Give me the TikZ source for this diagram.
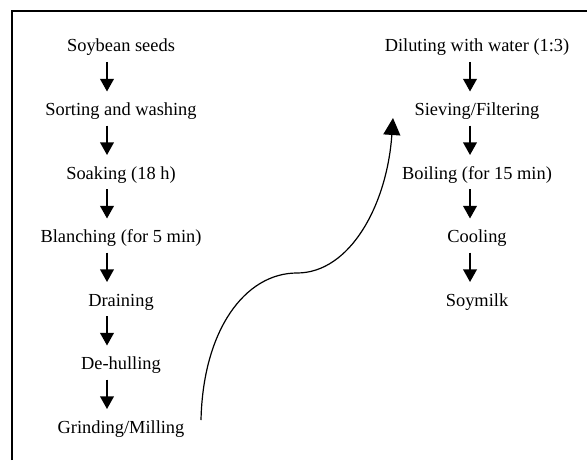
\documentclass[tikz,border=0pt]{standalone}
\usepackage{fontspec}
\setmainfont{Liberation Serif}
\usetikzlibrary{arrows.meta}

\begin{document}
\begin{tikzpicture}[x=0.5pt, y=-0.5pt]
    % Styles
    \tikzset{
        frameline/.style={line width=0.75pt},
        steplabel/.style={anchor=base, inner sep=0pt, font=\fontsize{9.2}{11}\selectfont},
        flowarrow/.style={line width=0.9pt, -{Triangle[length=6.3pt, width=6.8pt]}},
        curvearrow/.style={line width=0.6pt, -{Triangle[length=8.5pt, width=8.5pt]}}
    }

    \useasboundingbox (0,0) rectangle (587,460);

    % Frame (top and left edges)
    \draw[frameline] (12,460) -- (12,11) -- (587,11);

    % Left column
    \foreach \name/\txt [count=\i from 0] in {seeds/Soybean seeds, sorting/Sorting and washing, soaking/Soaking (18 h), blanching/Blanching (for 5 min), draining/Draining, dehulling/De-hulling, grinding/{Grinding/Milling}}
        \node[steplabel] (\name) at (121, 52+63.5*\i) {\txt};

    % Right column
    \foreach \name/\txt [count=\i from 0] in {diluting/Diluting with water (1:3), sieving/{Sieving/Filtering}, boiling/Boiling (for 15 min), cooling/Cooling, soymilk/Soymilk}
        \node[steplabel] (\name) at (477, 52+63.5*\i) {\txt};

    % Arrows, left
    \foreach \a/\b in {seeds/sorting, sorting/soaking, soaking/blanching, blanching/draining, draining/dehulling, dehulling/grinding}
        \draw[flowarrow] ([shift={(-14,10)}]\a.base) -- ([shift={(-14,-24)}]\b.base);

    % Arrows, right
    \foreach \a/\b in {diluting/sieving, sieving/boiling, boiling/cooling, cooling/soymilk}
        \draw[flowarrow] ([shift={(-7,10)}]\a.base) -- ([shift={(-7,-24)}]\b.base);

    % Curved link from milling to sieving
    \coordinate (millout) at (201,420);
    \coordinate (bend) at (297,273);
    \coordinate (sievein) at (393,118);
    \draw[curvearrow] (millout) .. controls (203,330) and (245,273) .. (bend)
        .. controls (350,273) and (387,205) .. (sievein);

\end{tikzpicture}
\end{document}
